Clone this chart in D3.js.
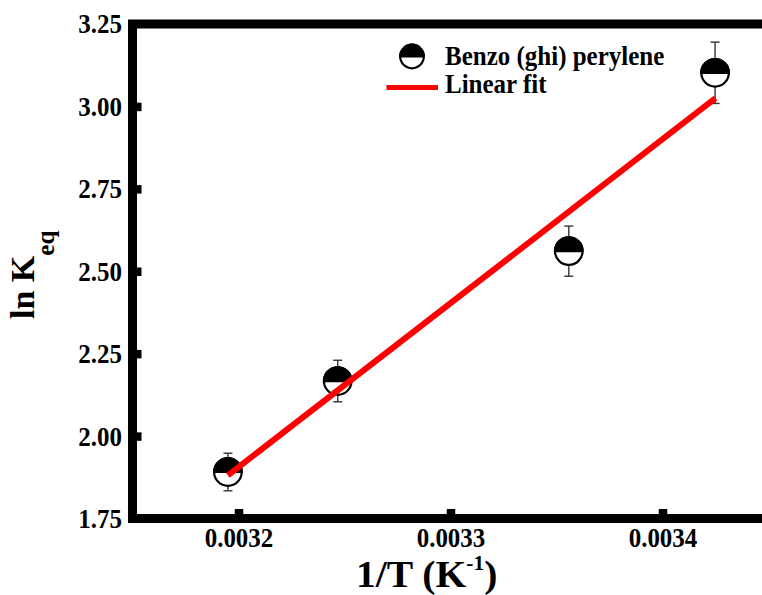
<!DOCTYPE html>
<html>
<head>
<meta charset="utf-8">
<script src="https://cdn.jsdelivr.net/npm/d3@7/dist/d3.min.js"></script>
<style>
  html, body { margin: 0; padding: 0; background: #fff; }
  svg { display: block; }
  text { font-family: "Liberation Serif", "Times New Roman", serif; font-weight: bold; fill: #000; }
</style>
</head>
<body>
<script>
// Van 't Hoff data: ln Keq against 1/T
const invT      = [0.003195, 0.0032468, 0.0033558, 0.0034248];
const lnK       = [1.891, 2.167, 2.561, 3.102];
const lnKErr    = [0.057, 0.063, 0.076, 0.093];
// linear fit end points
const fitX      = [0.003195, 0.003425];
const fitY      = [1.881, 3.025];
const xTicks    = [0.0032, 0.0033, 0.0034];
const xTickText = ["0.0032", "0.0033", "0.0034"];
const yTicks    = [1.75, 2.00, 2.25, 2.50, 2.75, 3.00, 3.25];
const yTickText = ["1.75", "2.00", "2.25", "2.50", "2.75", "3.00", "3.25"];
const seriesName = "Benzo (ghi) perylene";
const fitName    = "Linear fit";

const W = 762, H = 595;
const tall = 1.12;   // labels are drawn slightly taller than wide
const svg = d3.select("body").append("svg").attr("width", W).attr("height", H);

const x = d3.scaleLinear().domain([0.00315, 0.00345]).range([132.5, 768.5]);
const y = d3.scaleLinear().domain([1.75, 3.25]).range([518.5, 24]);

// frame
const spine = 9;
svg.append("rect")
  .attr("x", x.range()[0]).attr("y", y.range()[1])
  .attr("width", x.range()[1] - x.range()[0])
  .attr("height", y.range()[0] - y.range()[1])
  .attr("fill", "none").attr("stroke", "#000").attr("stroke-width", spine);

// axes: ticks inside the frame
const xAxis = d3.axisBottom(x).tickValues(xTicks)
  .tickFormat((d, i) => xTickText[i]).tickSizeInner(-9.5).tickSizeOuter(0).tickPadding(0);
const yAxis = d3.axisLeft(y).tickValues(yTicks)
  .tickFormat((d, i) => yTickText[i]).tickSizeInner(-9).tickSizeOuter(0).tickPadding(10.5);

const gx = svg.append("g").attr("transform", `translate(0,${y.range()[0]})`).call(xAxis);
const gy = svg.append("g").attr("transform", `translate(${x.range()[0]},0)`).call(yAxis);
[gx, gy].forEach(g => {
  g.select(".domain").remove();
  g.selectAll(".tick line").attr("stroke", "#000").attr("stroke-width", 8.5);
  g.selectAll(".tick text").style("font-size", "25px").attr("fill", "#000")
    .attr("transform", `scale(1,${tall})`);
});
gx.selectAll(".tick text").attr("dy", null).attr("y", 29 / tall);
// first and last y tick sit on the frame corners: hide their tick marks
gy.selectAll(".tick line").filter(d => d === 1.75 || d === 3.25).remove();

// axis titles
const xt = svg.append("text").attr("transform", "translate(356,586.5) scale(1.07,1)").style("font-size", "37px");
xt.append("tspan").text("1/T (K");
xt.append("tspan").attr("dy", -17).style("font-size", "20px").text("-1");
xt.append("tspan").attr("dy", 17).text(")");

const yt = svg.append("text").attr("transform", "translate(34,319) rotate(-90)").style("font-size", "34px");
yt.append("tspan").text("ln K");
yt.append("tspan").attr("dy", 20).style("font-size", "25px").text("eq");

// half-filled circle marker
function marker(g, cx, cy, r) {
  g.append("circle").attr("cx", cx).attr("cy", cy).attr("r", r)
    .attr("fill", "#fff").attr("stroke", "#000").attr("stroke-width", 2.2);
  g.append("path")
    .attr("d", `M${cx - r},${cy} A${r},${r} 0 0 1 ${cx + r},${cy} Z`)
    .attr("fill", "#000").attr("stroke", "#000").attr("stroke-width", 2.2);
}

// error bars
const eb = svg.append("g").attr("stroke", "#333").attr("stroke-width", 1.4);
invT.forEach((v, i) => {
  const cx = x(v), y1 = y(lnK[i] + lnKErr[i]), y2 = y(lnK[i] - lnKErr[i]);
  eb.append("line").attr("x1", cx).attr("x2", cx).attr("y1", y1).attr("y2", y2);
  eb.append("line").attr("x1", cx - 4.5).attr("x2", cx + 4.5).attr("y1", y1).attr("y2", y1);
  eb.append("line").attr("x1", cx - 4.5).attr("x2", cx + 4.5).attr("y1", y2).attr("y2", y2);
});

// data points
const pts = svg.append("g");
invT.forEach((v, i) => marker(pts, x(v), y(lnK[i]), 13.8));

// fit line
svg.append("line")
  .attr("x1", x(fitX[0])).attr("y1", y(fitY[0]))
  .attr("x2", x(fitX[1])).attr("y2", y(fitY[1]))
  .attr("stroke", "#ff0000").attr("stroke-width", 6);

// legend
const lg = svg.append("g");
marker(lg, 412, 56.5, 11.8);
lg.append("text").attr("transform", `translate(445,64.5) scale(1,${tall})`)
  .style("font-size", "25px").text(seriesName);
lg.append("line").attr("x1", 386.5).attr("x2", 438).attr("y1", 87.5).attr("y2", 87.5)
  .attr("stroke", "#ff0000").attr("stroke-width", 5);
lg.append("text").attr("transform", `translate(445,93) scale(1,${tall})`)
  .style("font-size", "25px").text(fitName);
</script>
</body>
</html>
